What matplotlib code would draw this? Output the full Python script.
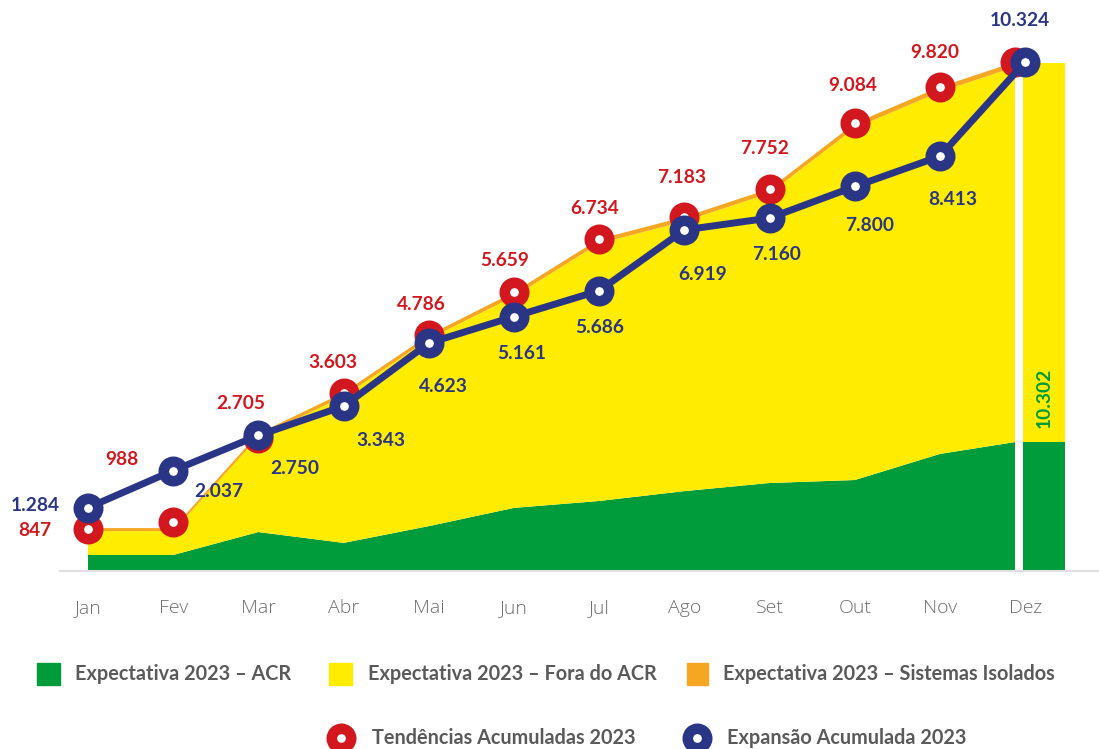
import numpy as np
import matplotlib.pyplot as plt
from matplotlib.patches import Rectangle
from matplotlib.lines import Line2D

plt.rcParams['font.family'] = ['Lato', 'DejaVu Sans']

meses = ['Jan', 'Fev', 'Mar', 'Abr', 'Mai', 'Jun', 'Jul', 'Ago', 'Set', 'Out', 'Nov', 'Dez']

# areas empilhadas (expectativa 2023)
acr = [325, 325, 790, 570, 910, 1280, 1420, 1620, 1785, 1845, 2375, 2615]
fora_acr = [485, 485, 1930, 2970, 3796, 4289, 5224, 5473, 5877, 7139, 7345, 7609]
isolados = [60, 60, 70, 80, 80, 90, 90, 90, 90, 100, 100, 100]

# barra de dezembro
dez_acr = 2615
dez_total = 10302

tendencias = [847, 988, 2705, 3603, 4786, 5659, 6734, 7183, 7752, 9084, 9820, 10324]
expansao = [1284, 2037, 2750, 3343, 4623, 5161, 5686, 6919, 7160, 7800, 8413, 10324]

VERDE = '#009b3a'
AMARELO = '#ffec00'
LARANJA = '#f5a623'
VERMELHO = '#d2171e'
AZUL = '#2b3585'
CINZA = '#5a5a5a'
FS = 13.8
FS_LEG = 14.3

W, H = 1099, 749
fig = plt.figure(figsize=(W / 100, H / 100), dpi=100)
ax = fig.add_axes([60 / W, (H - 571) / H, (W - 60) / W, 571 / H])

x = np.arange(len(meses), dtype=float)
x_area = x.copy()
x_area[-1] -= 0.12  # deixa espaco para a separacao da barra de dezembro

ax.stackplot(x_area, acr, fora_acr, isolados, colors=[VERDE, AMARELO, LARANJA],
             linewidth=0, zorder=1)
ax.bar(x[-1] - 0.03, dez_acr, width=0.5, align='edge', color=VERDE, zorder=1)
ax.bar(x[-1] - 0.03, dez_total - dez_acr, bottom=dez_acr, width=0.5, align='edge',
       color=AMARELO, zorder=1)
ax.text(x[-1] + 0.22, 3510, f"{dez_total:,}".replace(',', '.'), rotation=90,
        color=VERDE, fontsize=FS, fontweight='bold', ha='center', va='center')

ring = dict(marker='o', markersize=14, markeredgewidth=7.6, markerfacecolor='white')
x_tend = x_area
ax.plot(x_tend, tendencias, linestyle='none', markeredgecolor=VERMELHO, zorder=3, **ring)
ax.plot(x, expansao, color=AZUL, linewidth=5, markeredgecolor=AZUL, zorder=4, **ring)


def fmt(v):
    return f"{v:,}".replace(',', '.')


off_tend = [(-53, -1), (-51, 63), (-18, 34), (-11, 31), (-7, 31), (-9, 32),
            (-5, 31), (-3, 39), (-5, 40), (-2, 38), (-5, 34)]
for i, (dx, dy) in enumerate(off_tend):
    ax.annotate(fmt(tendencias[i]), (x_tend[i], tendencias[i]), xytext=(dx, dy),
                textcoords='offset pixels', ha='center', va='center',
                color=VERMELHO, fontsize=FS, fontweight='bold', zorder=5)

off_exp = [(-53, 2), (46, -21), (36, -33), (37, -34), (15, -43), (8, -37),
           (0, -37), (18, -45), (7, -36), (15, -39), (13, -43), (-5, 42)]
for i, (dx, dy) in enumerate(off_exp):
    ax.annotate(fmt(expansao[i]), (x[i], expansao[i]), xytext=(dx, dy),
                textcoords='offset pixels', ha='center', va='center',
                color=AZUL, fontsize=FS, fontweight='bold', zorder=5)

ax.set_xlim((60 - 88) / 85.2, (W - 88) / 85.2)
ax.set_ylim(0, 571 / 0.0493)
ax.set_xticks(x)
ax.set_xticklabels(meses, fontsize=14, color='#6e6e6e', fontweight='light',
                   family=['Open Sans', 'DejaVu Sans'])
ax.tick_params(axis='x', length=0, pad=20)
ax.set_yticks([])
for s in ['top', 'right', 'left']:
    ax.spines[s].set_visible(False)
ax.spines['bottom'].set_color('#e0e0e0')
ax.spines['bottom'].set_linewidth(1.5)
ax.patch.set_alpha(0)


def fx(px):
    return px / W


def fy(py):
    return 1 - py / H


# legenda - linha 1
itens = [(37, 60, VERDE, 75, 'Expectativa 2023 – ACR'),
         (329, 352, AMARELO, 368, 'Expectativa 2023 – Fora do ACR'),
         (687, 708, LARANJA, 723, 'Expectativa 2023 – Sistemas Isolados')]
for x0, x1, cor, xt, txt in itens:
    fig.add_artist(Rectangle((fx(x0), fy(685)), fx(x1) - fx(x0), 22 / H,
                             transform=fig.transFigure, color=cor))
    fig.text(fx(xt), fy(674), txt, color=CINZA, fontsize=FS_LEG, fontweight='bold',
             ha='left', va='center')

# legenda - linha 2
for xc, cor, xt, txt in [(341, VERMELHO, 372, 'Tendências Acumuladas 2023'),
                         (697, AZUL, 727, 'Expansão Acumulada 2023')]:
    fig.add_artist(Line2D([fx(xc)], [fy(738)], transform=fig.transFigure,
                          markeredgecolor=cor, **ring))
    fig.text(fx(xt), fy(738), txt, color=CINZA, fontsize=FS_LEG, fontweight='bold',
             ha='left', va='center')

fig.savefig('out.png', dpi=100)
